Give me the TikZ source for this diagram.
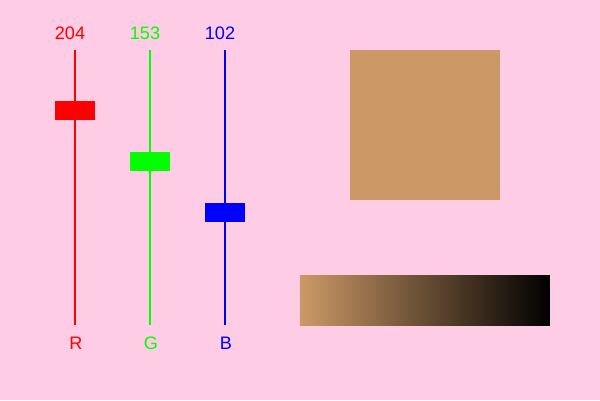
\documentclass[tikz,border=0pt]{standalone}
\usepackage{fontspec}
\setmainfont{Liberation Sans}
\definecolor{bgpink}{RGB}{255,204,229}
\definecolor{swatch}{RGB}{204,153,102}
\tikzset{
  knob/.style={fill=#1, minimum width=0.8cm, minimum height=0.39cm, inner sep=0pt},
  chan/.style={text=#1, inner sep=0pt, font=\fontsize{10.3}{12}\selectfont}
}
\begin{document}
\begin{tikzpicture}[x=0.02cm,y=-0.02cm]
    \fill[bgpink] (0,0) rectangle (600,400);
    % sliders
    \foreach \c/\x/\v/\y/\n in {red/75/204/110.5/R,green/150/153/161.5/G,blue/225/102/212.5/B}
    {
    \coordinate (\n top) at (\x,50);
    \coordinate (\n bot) at (\x,325);
    \draw[\c,line width=0.6pt] (\n top) -- (\n bot);
    \node[knob=\c] (\n knob) at (\x,\y) {};
    \node[chan=\c] (\n val) at (\x-5,33) {\v};
    \node[chan=\c] (\n lab) at (\x+1,343) {\n};
    }
    % mixed colour
    \fill[swatch] (350,50) rectangle (500,200);
    \shade[left color=swatch,right color=black] (300,275) rectangle (550,325);
  \end{tikzpicture}
\end{document}
